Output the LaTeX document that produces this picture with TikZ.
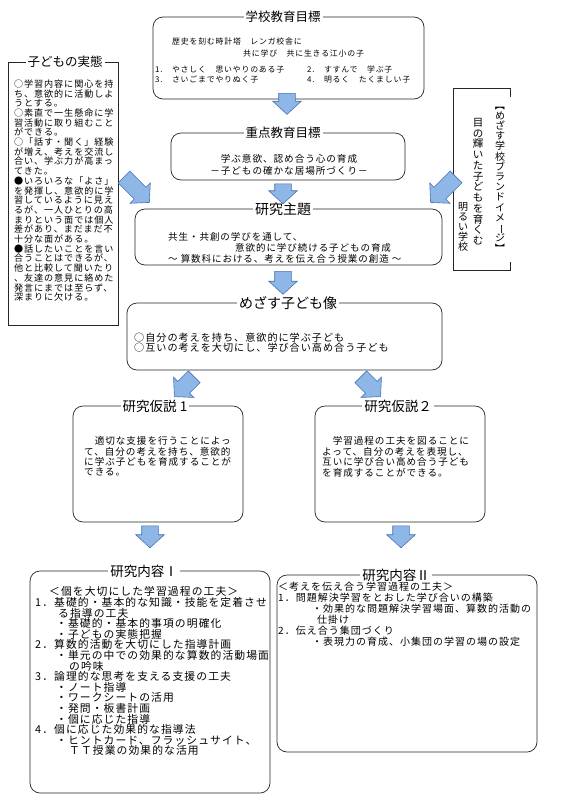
\documentclass[tikz,border=0pt]{standalone}
\usepackage{fontspec}
\usepackage{graphicx}
\newfontfamily\jp{Noto Sans CJK JP}
\newfontfamily\jps[LetterSpace=10]{Noto Sans CJK JP}
\usetikzlibrary{shapes.arrows}
\definecolor{arrfill}{RGB}{142,182,230}
\definecolor{arrdraw}{RGB}{70,115,180}
\newcommand{\jfs}[2]{\jp\fontsize{#1}{#2}\selectfont\lineskiplimit=-30pt\lineskip=0pt}
\newcommand{\jss}[2]{\jps\fontsize{#1}{#2}\selectfont\lineskiplimit=-30pt\lineskip=0pt}
\newcommand{\vr}[1]{\rotatebox[origin=c]{-90}{#1}}
\begin{document}
\begin{tikzpicture}[x=1pt,y=-1pt,
  box/.style={draw=black!85, line width=0.7pt, rounded corners=10pt, inner sep=0pt, outer sep=0pt},
  sqbox/.style={draw=black!85, line width=0.7pt, inner sep=0pt, outer sep=0pt},
  ttl/.style={fill=white, inner xsep=2pt, inner ysep=1pt},
  txt/.style={inner sep=0pt, align=left, anchor=north west},
  vcol/.style={inner sep=0pt, align=center, anchor=north},
  barrow/.style={single arrow, draw=arrdraw, fill=arrfill, line width=0.6pt,
    inner xsep=0pt, inner ysep=8pt, single arrow head extend=6pt, minimum height=#1,
    single arrow tip angle=95},
]
\useasboundingbox (0,0) rectangle (566,801);
\fill[white] (0,0) rectangle (566,801);

% ---------- boxes ----------
\node[box, minimum width=271pt, minimum height=82pt] (b1) at (288.5,58) {};
\node[box, minimum width=234pt, minimum height=47pt] (b2) at (288,156.5) {};
\node[box, minimum width=307pt, minimum height=56pt] (b3) at (288.5,237) {};
\node[box, minimum width=315pt, minimum height=67pt] (b4) at (284.5,336.5) {};
\node[box, minimum width=170pt, minimum height=116pt] (b5) at (158,464) {};
\node[box, minimum width=170pt, minimum height=116pt] (b6) at (400,464) {};
\node[box, minimum width=240pt, minimum height=222pt] (b7) at (150,682) {};
\node[box, minimum width=260pt, minimum height=177pt] (b8) at (407,663.5) {};
\node[sqbox, minimum width=110pt, minimum height=263pt] (lb) at (63,193.5) {};

% right brand box (right side partly open)
\coordinate (r1) at (510,97);
\coordinate (r2) at (510,88);
\coordinate (r3) at (453,88);
\coordinate (r4) at (453,270);
\coordinate (r5) at (510,270);
\coordinate (r6) at (510,262);
\draw[black!85, line width=0.7pt] (r1) -- (r2) -- (r3) -- (r4) -- (r5) -- (r6);

% ---------- titles ----------
\node[ttl, font=\jfs{12.5}{14}] (t1) at (283,17) {学校教育目標};
\node[ttl, font=\jfs{12.5}{14}] (tl) at (65,62) {子どもの実態};
\node[ttl, font=\jfs{12.5}{14}] (t2) at (283,133) {重点教育目標};
\node[ttl, font=\jfs{14}{16}] (t3) at (283,209) {研究主題};
\node[ttl, font=\jfs{14}{16}] (t4) at (288,303) {めざす子ども像};
\node[ttl, font=\jfs{13.5}{15}] (t5) at (155,406) {研究仮説 1};
\node[ttl, font=\jfs{13.5}{15}] (t6) at (398,406) {研究仮説２};
\node[ttl, font=\jfs{13.5}{15}] (t7) at (144,571) {研究内容Ⅰ};
\node[ttl, font=\jfs{13.5}{15}] (t8) at (396,575) {研究内容Ⅱ};

% ---------- texts ----------
\node[inner sep=0pt, anchor=west, font=\jss{7.9}{10}] (s1a) at (172,42) {歴史を刻む時計塔　レンガ校舎に};
\node[inner sep=0pt, anchor=west, font=\jss{7.9}{10}] (s1b) at (243,53) {共に学び　共に生きる江小の子};
\node[txt, font=\jss{7.9}{10}] (s1c) at (155,66) {1.　やさしく　思いやりのある子\\3.　さいごまでやりぬく子};
\node[txt, font=\jss{7.9}{10}] (s1d) at (307,66) {2.　すすんで　学ぶ子\\4.　明るく　たくましい子};

\node[txt, font=\jss{9.1}{9.7}] (sl) at (14,79.5) {○学習内容に関心を持\\ち、意欲的に活動しよ\\うとする。\\○素直で一生懸命に学\\習活動に取り組むこと\\ができる。\\○「話す・聞く」経験\\が増え、考えを交流し\\合い、学ぶ力が高まっ\\てきた。\\●いろいろな「よさ」\\を発揮し、意欲的に学\\習しているように見え\\るが、一人ひとりの高\\まりという面では個人\\差があり、まだまだ不\\十分な面がある。\\●話したいことを言い\\合うことはできるが、\\他と比較して聞いたり\\、友達の意見に絡めた\\発言にまでは至らず、\\深まりに欠ける。};

\node[vcol, font=\jfs{10}{10.2}] (v1) at (500,100) {\vr{【}\\め\\ざ\\す\\学\\校\\ブ\\ラ\\ン\\ド\\イ\\メ\\\vr{ー}\\ジ\\\vr{】}};
\node[vcol, font=\jfs{10.5}{10.75}] (v2) at (478,118) {目\\の\\輝\\い\\た\\子\\ど\\も\\を\\育\\く\\む};
\node[vcol, font=\jfs{10}{10}] (v3) at (463,202) {明\\る\\い\\学\\校};

\node[inner sep=0pt, align=center, anchor=north, font=\jss{9.6}{12}] (s2) at (289,154.5) {学ぶ意欲、認め合う心の育成\\－子どもの確かな居場所づくり－};

\node[txt, font=\jss{9.5}{11}] (s3) at (168,232.5) {共生・共創の学びを通して、\\\hspace*{67pt}意欲的に学び続ける子どもの育成\\～ 算数科における、考えを伝え合う授業の創造 ～};

\node[txt, font=\jss{10.1}{10}] (s4) at (134,333) {○自分の考えを持ち、意欲的に学ぶ子ども\\○互いの考えを大切にし、学び合い高め合う子ども};

\node[txt, font=\jss{9.6}{10.4}] (s5) at (84,436.5) {　適切な支援を行うことによっ\\て、自分の考えを持ち、意欲的\\に学ぶ子どもを育成することが\\できる。};
\node[txt, font=\jss{9.6}{10.4}] (s6) at (322,436.5) {　学習過程の工夫を図ることに\\よって、自分の考えを表現し、\\互いに学び合い高め合う子ども\\を育成することができる。};

\node[txt, font=\jss{10.8}{10.6}] (s7) at (35,586.5) {\hspace*{14pt}＜個を大切にした学習過程の工夫＞\\1．基礎的・基本的な知識・技能を定着させ\\\hspace*{23pt}る指導の工夫\\\hspace*{21pt}・基礎的・基本的事項の明確化\\\hspace*{21pt}・子どもの実態把握\\2．算数的活動を大切にした指導計画\\\hspace*{21pt}・単元の中での効果的な算数的活動場面\\\hspace*{34pt}の吟味\\3．論理的な思考を支える支援の工夫\\\hspace*{21pt}・ノート指導\\\hspace*{21pt}・ワークシートの活用\\\hspace*{21pt}・発問・板書計画\\\hspace*{21pt}・個に応じた指導\\4．個に応じた効果的な指導法\\\hspace*{21pt}・ヒントカード、フラッシュサイト、\\\hspace*{34pt}ＴＴ授業の効果的な活用};

\node[txt, font=\jss{10.0}{11}] (s8) at (278,582) {＜考えを伝え合う学習過程の工夫＞\\1．問題解決学習をとおした学び合いの構築\\\hspace*{34pt}・効果的な問題解決学習場面、算数的活動の\\\hspace*{39pt}仕掛け\\2．伝え合う集団づくり\\\hspace*{34pt}・表現力の育成、小集団の学習の場の設定};

% ---------- block arrows ----------
\node[barrow=21pt, rotate=-90] (a1) at (287,100) {};
\node[barrow=20pt, rotate=-90] (a2) at (283,190) {};
\node[barrow=23pt, rotate=-90] (a3) at (283,279) {};
\node[barrow=36pt, rotate=-45] (a4) at (134,187) {};
\node[barrow=36pt, rotate=-135] (a5) at (446,187) {};
\node[barrow=28pt, rotate=-135] (a6) at (187,384) {};
\node[barrow=28pt, rotate=-45] (a7) at (368,384) {};
\node[barrow=22pt, rotate=-90] (a8) at (150,533) {};
\node[barrow=22pt, rotate=-90] (a9) at (401,533) {};
\end{tikzpicture}
\end{document}
